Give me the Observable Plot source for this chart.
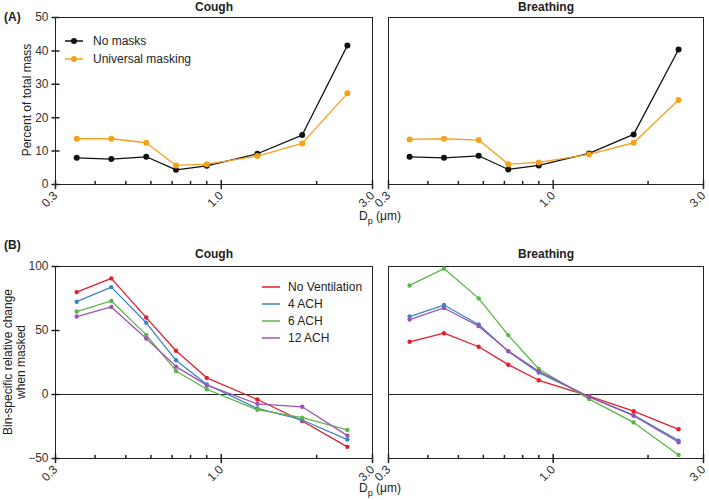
<!DOCTYPE html>
<html><head><meta charset="utf-8">
<script src="https://cdn.jsdelivr.net/npm/d3@7"></script>
<script src="https://cdn.jsdelivr.net/npm/@observablehq/plot@0.6"></script>
<style>
body{margin:0;background:#fff;font-family:"Liberation Sans",Arial,sans-serif;}
#chart{position:relative;width:709px;height:500px;overflow:hidden;background:#fff}
#chart svg{position:absolute;overflow:visible;background:none}
.t{position:absolute;font-size:12px;color:#222;white-space:nowrap;line-height:1}
.title{font-weight:bold;transform:translate(-50%,-50%)}
.rot{transform:translate(-50%,-50%) rotate(-90deg);text-align:center;line-height:1.05}
.leg{position:absolute;font-size:12px;color:#222;display:flex;align-items:center;white-space:nowrap}
</style></head><body><div id="chart"></div><script>
// ---- data ----
const dp = [0.35, 0.45, 0.58, 0.72, 0.9, 1.3, 1.8, 2.5];
const majorTicks = [0.3, 1.0, 3.0];
const minorTicks = [0.4, 0.5, 0.6, 0.7, 0.8, 0.9, 2.0];
const topYTicks = [0, 10, 20, 30, 40, 50];
const botYTicks = [-50, 0, 50, 100];

const topSeries = ["No masks", "Universal masking"];
const topColors = ["#111111", "#f5a21b"];
const coughNoMask = [8.0, 7.6, 8.3, 4.4, 5.6, 9.2, 14.8, 41.6];
const coughMask = [13.7, 13.7, 12.5, 5.7, 6.1, 8.5, 12.3, 27.3];
const breathNoMask = [8.3, 8.0, 8.6, 4.5, 5.7, 9.3, 15.0, 40.4];
const breathMask = [13.5, 13.7, 13.3, 6.1, 6.6, 9.0, 12.5, 25.3];

const botSeries = ["No Ventilation", "4 ACH", "6 ACH", "12 ACH"];
const botColors = ["#e31d2b", "#3b86c1", "#5db54b", "#9a55b0"];
const coughNoVent = [80.0, 90.7, 60.1, 34.2, 13.0, -3.9, -20.7, -40.9];
const cough4 = [72.5, 83.9, 56.0, 26.7, 7.8, -10.9, -19.9, -35.2];
const cough6 = [64.8, 73.1, 46.6, 18.4, 4.1, -11.9, -18.1, -27.7];
const cough12 = [60.9, 68.4, 43.8, 21.8, 7.3, -7.3, -9.6, -32.1];
const breathNoVent = [41.2, 47.9, 37.3, 23.3, 11.1, -1.3, -13.0, -27.2];
const breath4 = [60.9, 69.9, 54.7, 33.7, 17.1, -1.8, -16.1, -36.0];
const breath6 = [85.2, 98.4, 75.1, 46.4, 19.9, -3.6, -21.8, -47.2];
const breath12 = [58.5, 67.6, 53.4, 33.9, 18.1, -1.8, -16.6, -37.3];

// ---- helpers ----
const chart = document.getElementById("chart");
const tickShape = {draw(ctx, l) { ctx.moveTo(0, 0); ctx.lineTo(0, -l); }};
function rows(names, arrays) {
  const out = [];
  names.forEach((n, i) => arrays[i].forEach((v, j) => out.push({s: n, dp: dp[j], v})));
  return out;
}
function panel(o) {
  const data = rows(o.names, o.arrays);
  const yMin = o.yDomain[0];
  const marks = [
    Plot.frame({stroke: "#222"}),
    ...(o.zero ? [Plot.ruleY([0], {stroke: "#222", strokeWidth: 1.2})] : []),
    Plot.vector(majorTicks, {x: d => d, y: () => yMin, length: 8, rotate: 0, anchor: "middle", shape: tickShape, stroke: "#222"}),
    Plot.vector(minorTicks, {x: d => d, y: () => yMin, length: 3, rotate: 0, anchor: "start", shape: tickShape, stroke: "#222"}),
    Plot.axisX(majorTicks, {tickSize: 0, tickPadding: 9, tickRotate: -45, tickFormat: d => d.toFixed(1), fontSize: 12, fill: "#333", label: null}),
    ...(o.showY ? [
      Plot.vector(o.yTicks, {x: () => 0.3, y: d => d, length: 7, rotate: 90, anchor: "middle", shape: tickShape, stroke: "#222"}),
      Plot.axisY(o.yTicks, {tickSize: 0, tickPadding: 7, fontSize: 12, fill: "#333", label: null})
    ] : []),
    Plot.line(data, {x: "dp", y: "v", z: "s", stroke: "s", strokeWidth: 1.3}),
    Plot.dot(data, {x: "dp", y: "v", fill: "s", r: o.r})
  ];
  const svg = Plot.plot({
    width: o.width, height: o.height,
    marginLeft: o.mL, marginRight: o.mR, marginTop: o.mT, marginBottom: o.mB,
    x: {type: "log", domain: [0.3, 3], axis: null},
    y: {domain: o.yDomain, axis: null},
    color: {domain: o.names, range: o.colors},
    style: {fontFamily: "'Liberation Sans', Arial, sans-serif", background: "none", color: "#222"},
    marks
  });
  svg.style.left = o.left + "px";
  svg.style.top = o.top + "px";
  chart.appendChild(svg);
}
function text(html, x, y, cls) {
  const d = document.createElement("div");
  d.className = "t " + (cls || "");
  d.style.left = x + "px"; d.style.top = y + "px";
  d.innerHTML = html;
  chart.appendChild(d);
  return d;
}
function legend(names, colors, x, y, step, withDot, gap) {
  names.forEach((n, i) => {
    const d = document.createElement("div");
    d.className = "leg";
    d.style.left = x + "px"; d.style.top = (y + i * step - 8) + "px"; d.style.height = "16px";
    const sw = `<svg width="18" height="10" style="position:static;overflow:visible;margin-right:${gap}px"><line x1="0" x2="18" y1="5" y2="5" stroke="${colors[i]}" stroke-width="1.5"/>${withDot ? `<circle cx="9" cy="5" r="3" fill="${colors[i]}"/>` : ""}</svg>`;
    d.innerHTML = sw + `<span>${n}</span>`;
    chart.appendChild(d);
  });
}

// ---- panels ----
panel({names: topSeries, colors: topColors, arrays: [coughNoMask, coughMask], left: 0, top: 0, width: 380, height: 230, mL: 55, mR: 8, mT: 17, mB: 46, yDomain: [0, 50], yTicks: topYTicks, showY: true, r: 3});
panel({names: topSeries, colors: topColors, arrays: [breathNoMask, breathMask], left: 370, top: 0, width: 339, height: 230, mL: 18, mR: 6, mT: 17, mB: 46, yDomain: [0, 50], yTicks: topYTicks, showY: false, r: 3});
panel({names: botSeries, colors: botColors, arrays: [coughNoVent, cough4, cough6, cough12], left: 0, top: 235, width: 380, height: 265, mL: 55, mR: 8, mT: 31, mB: 42, yDomain: [-50, 100], yTicks: botYTicks, showY: true, r: 2.2, zero: true});
panel({names: botSeries, colors: botColors, arrays: [breathNoVent, breath4, breath6, breath12], left: 370, top: 235, width: 339, height: 265, mL: 18, mR: 6, mT: 31, mB: 42, yDomain: [-50, 100], yTicks: botYTicks, showY: false, r: 2.2, zero: true});

// ---- texts ----
text("Cough", 214, 7, "title");
text("Breathing", 546, 7, "title");
text("Cough", 214, 254, "title");
text("Breathing", 546, 254, "title");
text("<b>(A)</b>", 4, 11);
text("<b>(B)</b>", 4, 239);
text("Percent of total mass", 27, 100, "rot");
text("Bin-specific relative change<br>when masked", 15, 362, "rot");
text("D<sub style='font-size:9px'>p</sub> (μm)", 380, 218, "title").style.fontWeight = "normal";
text("D<sub style='font-size:9px'>p</sub> (μm)", 380, 490, "title").style.fontWeight = "normal";
legend(topSeries, topColors, 65, 41, 18, true, 10);
legend(botSeries, botColors, 262, 287, 17, false, 8);
</script></body></html>
